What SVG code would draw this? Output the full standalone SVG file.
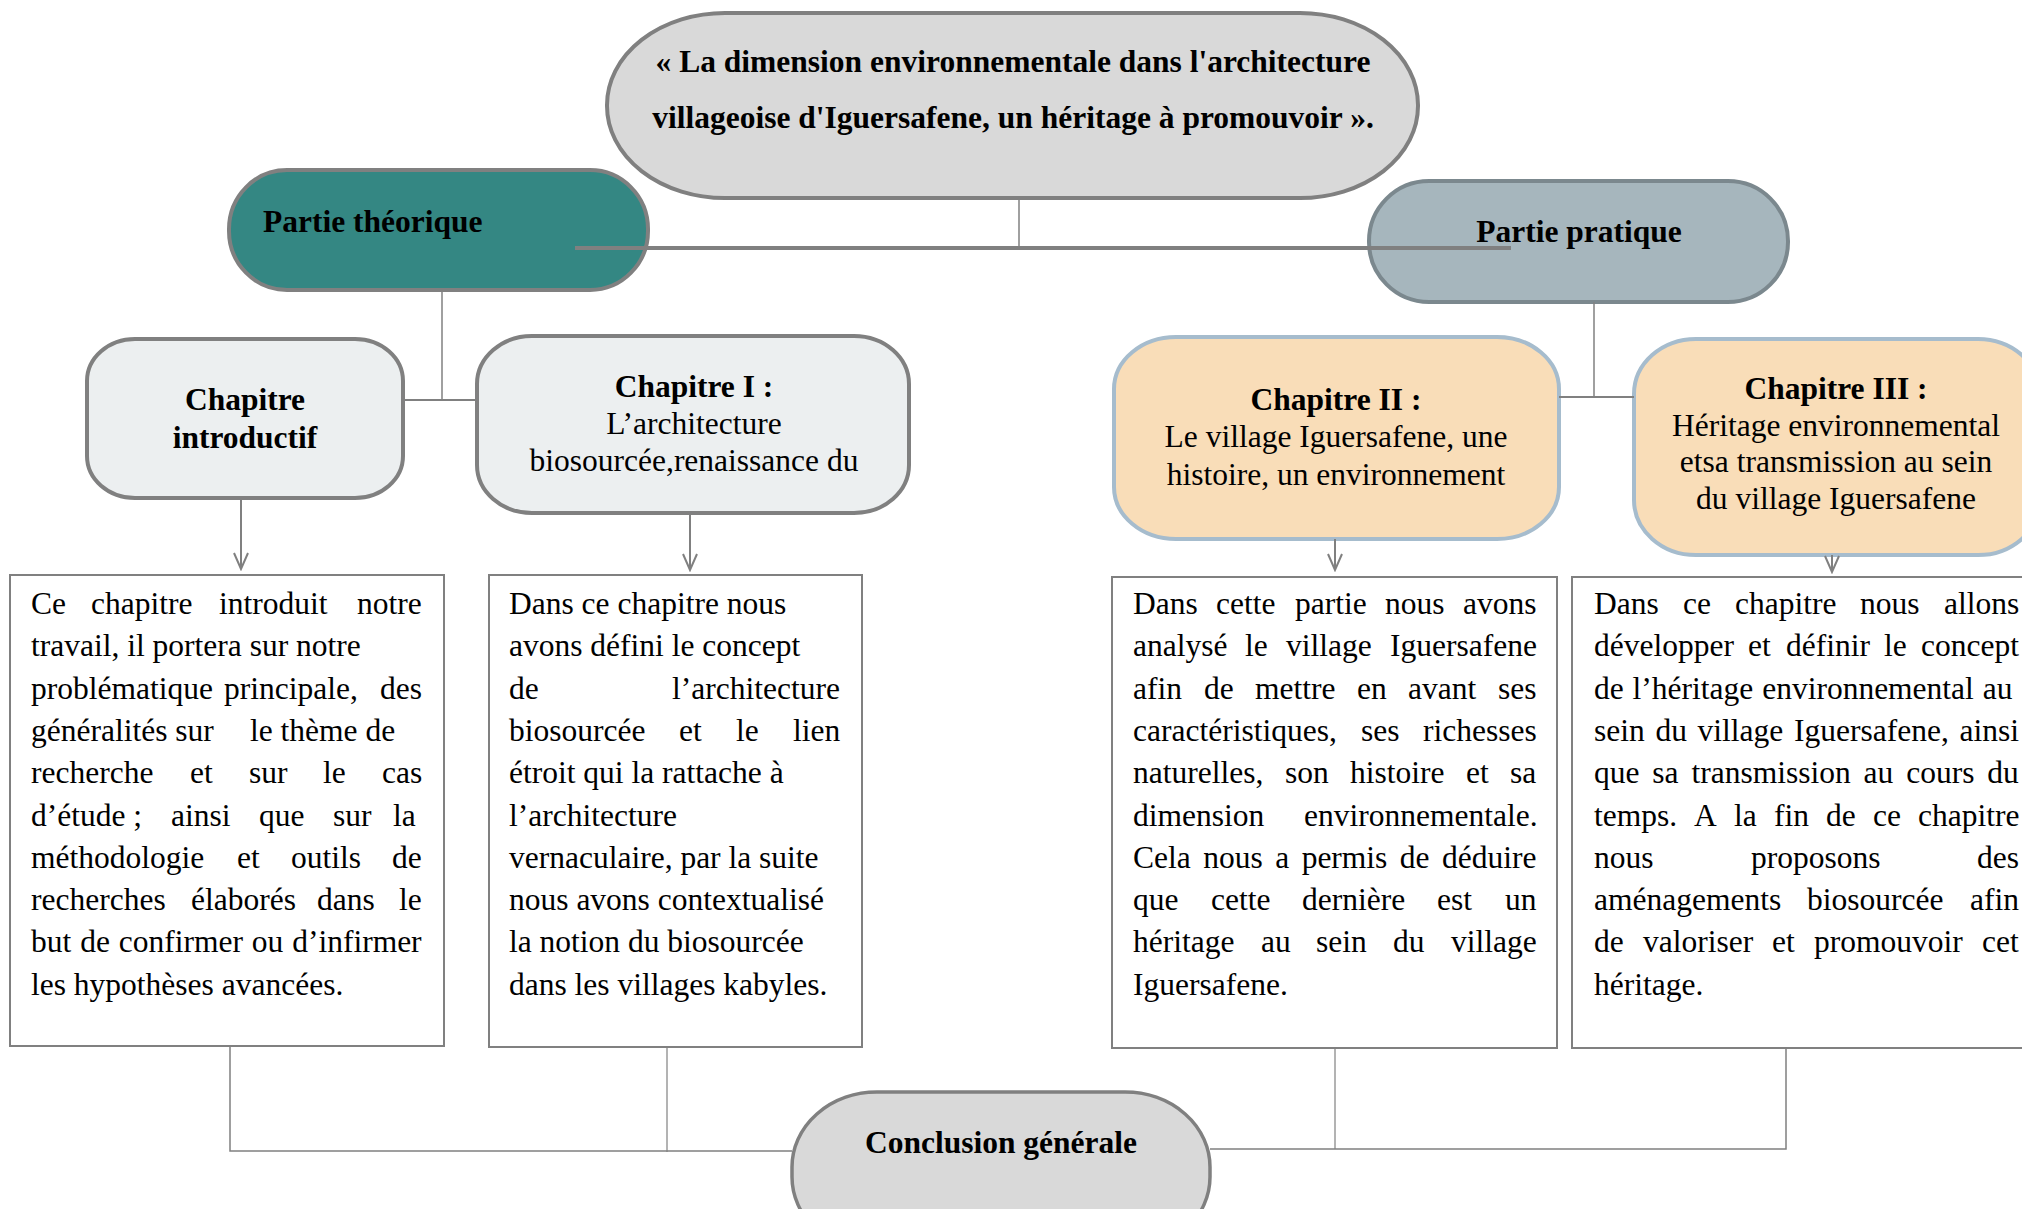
<svg xmlns="http://www.w3.org/2000/svg" width="2022" height="1209" viewBox="0 0 2022 1209">
<defs>
<style>
text{font-family:"Liberation Serif","Times New Roman",serif;font-size:31.5px;fill:#000}
.b{font-weight:bold}
.c{text-anchor:middle}
.ln{stroke:#808080;fill:none}
.box{fill:#fff;stroke:#808080;stroke-width:2}
</style>
<marker id="arr" viewBox="-2 -10 20 20" refX="16" refY="0" markerWidth="20" markerHeight="20" markerUnits="userSpaceOnUse" orient="auto">
<path d="M0,-7 L16,0 L0,7" fill="none" stroke="#808080" stroke-width="2"/>
</marker>
</defs>
<rect width="2022" height="1209" fill="#fff"/>

<g id="node-title">
<rect x="607" y="13" width="811" height="185" rx="118" ry="92" fill="#d9d9d9" stroke="#808080" stroke-width="4"/>
<text class="b c" x="1013" y="72">« La dimension environnementale dans l'architecture</text>
<text class="b c" x="1013" y="128">villageoise d'Iguersafene, un héritage à promouvoir ».</text>
</g>

<g id="node-theorique">
<rect x="229" y="170" width="419" height="120" rx="58" ry="59" fill="#348783" stroke="#808080" stroke-width="4"/>
<text class="b" x="263" y="232">Partie théorique</text>
</g>

<g id="node-pratique">
<rect x="1369" y="181" width="419" height="121" rx="60" ry="60" fill="#a6b6bd" stroke="#7b888e" stroke-width="4"/>
<text class="b c" x="1579" y="242">Partie pratique</text>
</g>

<g id="node-chap-intro">
<rect x="87" y="339" width="316" height="159" rx="48" ry="42" fill="#eceff0" stroke="#808080" stroke-width="4"/>
<text class="b c" x="245" y="410">Chapitre</text>
<text class="b c" x="245" y="448">introductif</text>
</g>

<g id="node-chap1">
<rect x="477" y="336" width="432" height="177" rx="55" ry="48" fill="#eceff0" stroke="#808080" stroke-width="4"/>
<text class="b c" x="694" y="397">Chapitre I :</text>
<text class="c" x="694" y="434">L’architecture</text>
<text class="c" x="694" y="471">biosourcée,renaissance du</text>
</g>

<g id="node-chap2">
<rect x="1114" y="337" width="445" height="202" rx="62" ry="52" fill="#f9ddb8" stroke="#a6bccd" stroke-width="4"/>
<text class="b c" x="1336" y="410">Chapitre II :</text>
<text class="c" x="1336" y="447">Le village Iguersafene, une</text>
<text class="c" x="1336" y="485">histoire, un environnement</text>
</g>

<g id="node-chap3">
<rect x="1634" y="339" width="406" height="216" rx="62" ry="55" fill="#f9ddb8" stroke="#a6bccd" stroke-width="4"/>
<text class="b c" x="1836" y="399">Chapitre III :</text>
<text class="c" x="1836" y="436">Héritage environnemental</text>
<text class="c" x="1836" y="472">etsa transmission au sein</text>
<text class="c" x="1836" y="509">du village Iguersafene</text>
</g>

<g id="text-box-1">
<rect class="box" x="10" y="575" width="434" height="471"/>
<text y="614"><tspan x="31">Ce</tspan><tspan x="91">chapitre</tspan><tspan x="219">introduit</tspan><tspan x="357">notre</tspan></text>
<text x="31" y="656">travail, il portera sur notre</text>
<text y="699"><tspan x="31">problématique</tspan><tspan x="224">principale,</tspan><tspan x="380">des</tspan></text>
<text y="741"><tspan x="31">généralités sur</tspan><tspan x="250">le thème de</tspan></text>
<text y="783"><tspan x="31">recherche</tspan><tspan x="190">et</tspan><tspan x="249">sur</tspan><tspan x="323">le</tspan><tspan x="382">cas</tspan></text>
<text y="826"><tspan x="31">d’étude ;</tspan><tspan x="171">ainsi</tspan><tspan x="259">que</tspan><tspan x="333">sur</tspan><tspan x="393">la</tspan></text>
<text y="868"><tspan x="31">méthodologie</tspan><tspan x="237">et</tspan><tspan x="291">outils</tspan><tspan x="392">de</tspan></text>
<text y="910"><tspan x="31">recherches</tspan><tspan x="191">élaborés</tspan><tspan x="317">dans</tspan><tspan x="399">le</tspan></text>
<text x="31" y="952" word-spacing="1">but de confirmer ou d’infirmer</text>
<text x="31" y="995">les hypothèses avancées.</text>
</g>

<g id="text-box-2">
<rect class="box" x="489" y="575" width="373" height="472"/>
<text x="509" y="614">Dans ce chapitre nous</text>
<text x="509" y="656">avons défini le concept</text>
<text y="699"><tspan x="509">de</tspan><tspan x="672">l’architecture</tspan></text>
<text y="741"><tspan x="509">biosourcée</tspan><tspan x="679">et</tspan><tspan x="736">le</tspan><tspan x="793">lien</tspan></text>
<text x="509" y="783">étroit qui la rattache à</text>
<text x="509" y="826">l’architecture</text>
<text x="509" y="868">vernaculaire, par la suite</text>
<text x="509" y="910">nous avons contextualisé</text>
<text x="509" y="952">la notion du biosourcée</text>
<text x="509" y="995">dans les villages kabyles.</text>
</g>

<g id="text-box-3">
<rect class="box" x="1112" y="577" width="445" height="471"/>
<text y="614"><tspan x="1133">Dans</tspan><tspan x="1216">cette</tspan><tspan x="1295">partie</tspan><tspan x="1385">nous</tspan><tspan x="1463">avons</tspan></text>
<text y="656"><tspan x="1133">analysé</tspan><tspan x="1245">le</tspan><tspan x="1286">village</tspan><tspan x="1390">Iguersafene</tspan></text>
<text y="699"><tspan x="1133">afin</tspan><tspan x="1204">de</tspan><tspan x="1255">mettre</tspan><tspan x="1357">en</tspan><tspan x="1408">avant</tspan><tspan x="1498">ses</tspan></text>
<text y="741"><tspan x="1133">caractéristiques,</tspan><tspan x="1361">ses</tspan><tspan x="1423">richesses</tspan></text>
<text y="783"><tspan x="1133">naturelles,</tspan><tspan x="1285">son</tspan><tspan x="1350">histoire</tspan><tspan x="1466">et</tspan><tspan x="1510">sa</tspan></text>
<text y="826"><tspan x="1133">dimension</tspan><tspan x="1304">environnementale.</tspan></text>
<text x="1133" y="868" word-spacing="4.6">Cela nous a permis de déduire</text>
<text y="910"><tspan x="1133">que</tspan><tspan x="1211">cette</tspan><tspan x="1302">dernière</tspan><tspan x="1437">est</tspan><tspan x="1505">un</tspan></text>
<text y="952"><tspan x="1133">héritage</tspan><tspan x="1261">au</tspan><tspan x="1316">sein</tspan><tspan x="1393">du</tspan><tspan x="1451">village</tspan></text>
<text x="1133" y="995">Iguersafene.</text>
</g>

<g id="text-box-4">
<rect class="box" x="1572" y="577" width="470" height="471"/>
<text y="614"><tspan x="1594">Dans</tspan><tspan x="1683">ce</tspan><tspan x="1735">chapitre</tspan><tspan x="1860">nous</tspan><tspan x="1944">allons</tspan></text>
<text y="656"><tspan x="1594">développer</tspan><tspan x="1748">et</tspan><tspan x="1786">définir</tspan><tspan x="1884">le</tspan><tspan x="1921">concept</tspan></text>
<text x="1594" y="699" word-spacing="1">de l’héritage environnemental au</text>
<text x="1594" y="741" word-spacing="2.8">sein du village Iguersafene, ainsi</text>
<text x="1594" y="783" word-spacing="5">que sa transmission au cours du</text>
<text y="826"><tspan x="1594">temps.</tspan><tspan x="1694">A</tspan><tspan x="1734">la</tspan><tspan x="1774">fin</tspan><tspan x="1826">de</tspan><tspan x="1873">ce</tspan><tspan x="1918">chapitre</tspan></text>
<text y="868"><tspan x="1594">nous</tspan><tspan x="1751">proposons</tspan><tspan x="1977">des</tspan></text>
<text y="910"><tspan x="1594">aménagements</tspan><tspan x="1807">biosourcée</tspan><tspan x="1970">afin</tspan></text>
<text y="952"><tspan x="1594">de</tspan><tspan x="1643">valoriser</tspan><tspan x="1772">et</tspan><tspan x="1814">promouvoir</tspan><tspan x="1982">cet</tspan></text>
<text x="1594" y="995">héritage.</text>
</g>

<g id="node-conclusion">
<rect x="792" y="1092" width="418" height="160" rx="85" ry="75" fill="#d9d9d9" stroke="#808080" stroke-width="3.5"/>
<text class="b c" x="1001" y="1153">Conclusion générale</text>
</g>

<g id="connectors">
<line class="ln" x1="1019" y1="198" x2="1019" y2="248" stroke-width="1.5"/>
<line class="ln" x1="575" y1="248" x2="1511" y2="248" stroke-width="4"/>
<polyline class="ln" points="442,290 442,400" stroke-width="1.5"/>
<line class="ln" x1="403" y1="400" x2="477" y2="400" stroke-width="2"/>
<line class="ln" x1="1594" y1="302" x2="1594" y2="397" stroke-width="1.5"/>
<line class="ln" x1="1559" y1="397" x2="1634" y2="397" stroke-width="2"/>
<line class="ln" x1="241" y1="498" x2="241" y2="569" stroke-width="2" marker-end="url(#arr)"/>
<line class="ln" x1="690" y1="513" x2="690" y2="570" stroke-width="2" marker-end="url(#arr)"/>
<line class="ln" x1="1335" y1="539" x2="1335" y2="570" stroke-width="2" marker-end="url(#arr)"/>
<line class="ln" x1="1832" y1="555" x2="1832" y2="572" stroke-width="2" marker-end="url(#arr)"/>
<polyline class="ln" points="230,1047 230,1151 792,1151" stroke-width="1.5"/>
<line class="ln" x1="667" y1="1048" x2="667" y2="1152" stroke-width="1.2"/>
<polyline class="ln" points="1210,1149 1786,1149 1786,1049" stroke-width="1.5"/>
<line class="ln" x1="1335" y1="1049" x2="1335" y2="1149" stroke-width="1.2"/>
</g>
</svg>
